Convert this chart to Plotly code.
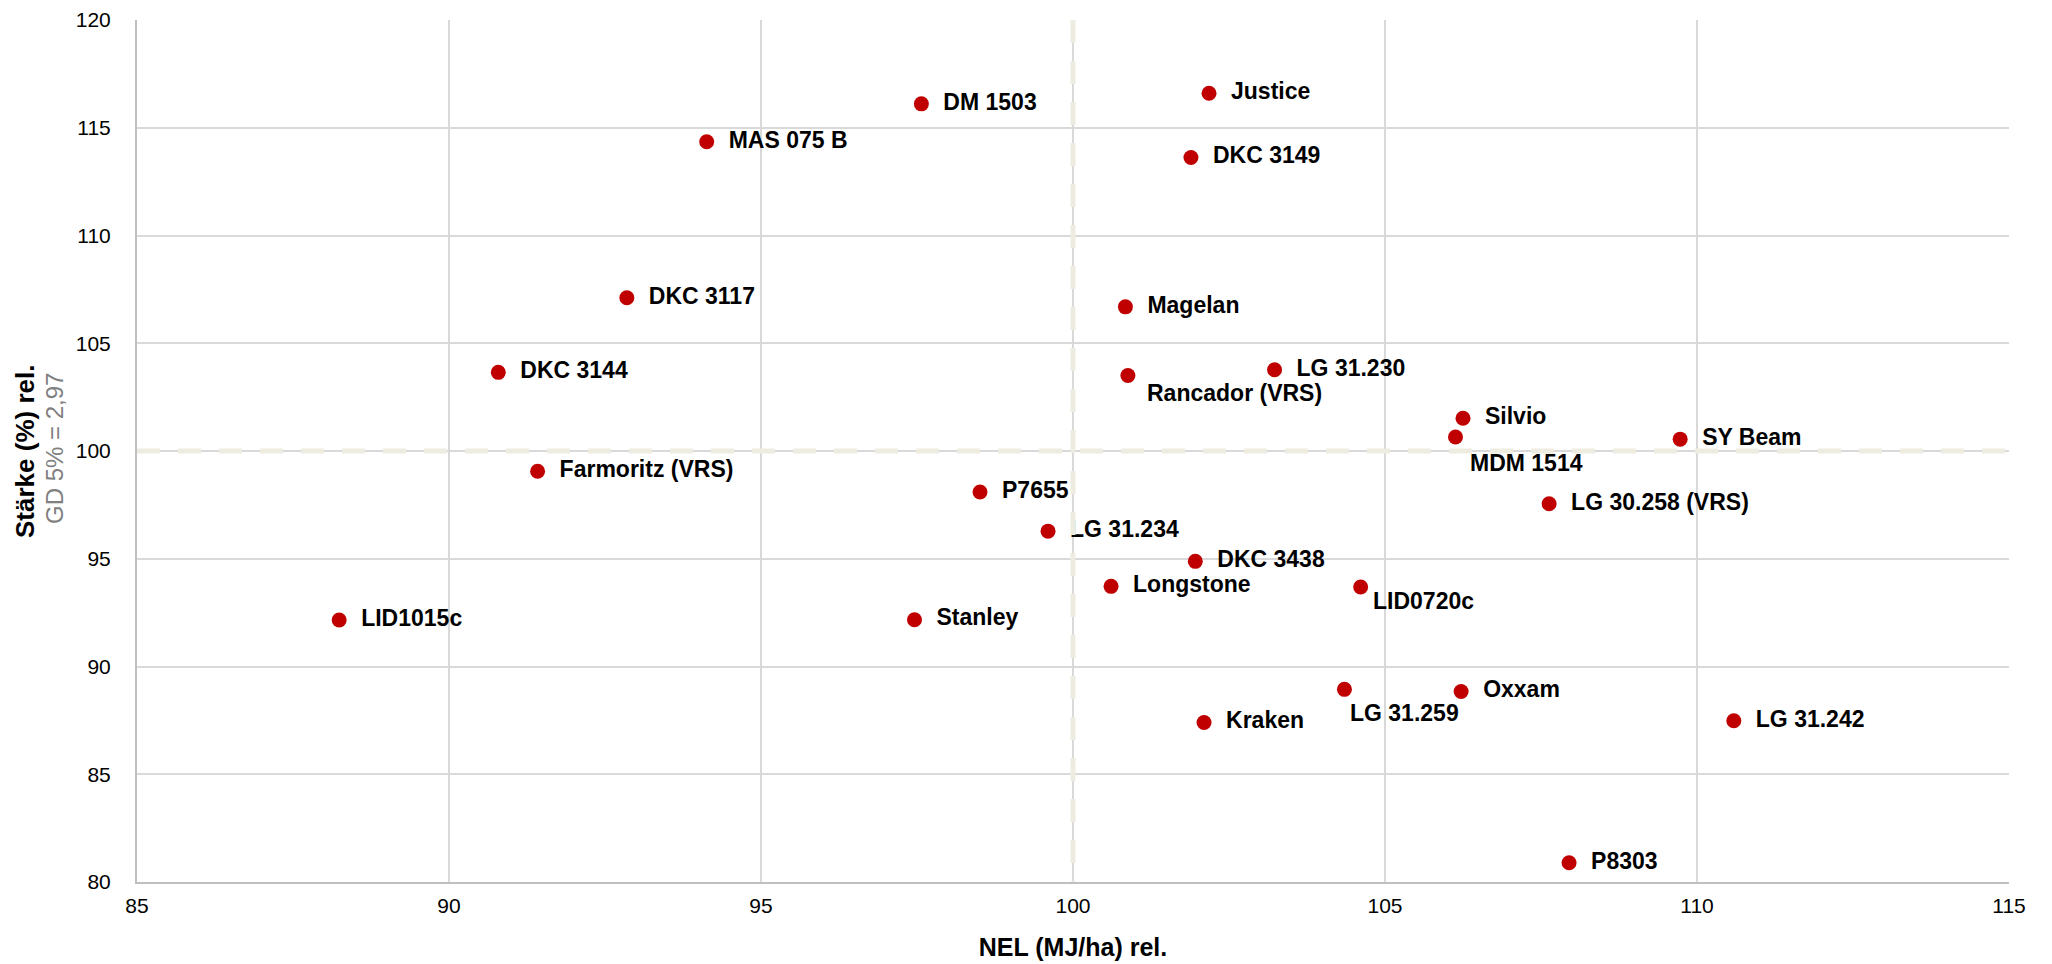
import plotly.graph_objects as go

# ---------------- data ----------------
names = [
    "Justice", "DM 1503", "MAS 075 B", "DKC 3149", "DKC 3117", "Magelan",
    "DKC 3144", "LG 31.230", "Rancador (VRS)", "Silvio", "MDM 1514", "SY Beam",
    "Farmoritz (VRS)", "P7655", "LG 30.258 (VRS)", "LG 31.234", "DKC 3438",
    "Longstone", "LID0720c", "Stanley", "LID1015c", "LG 31.259", "Oxxam",
    "Kraken", "LG 31.242", "P8303",
]
nel_rel = [
    102.18, 97.57, 94.13, 101.89, 92.85, 100.84,
    90.79, 103.23, 100.88, 106.25, 106.13, 109.73,
    91.42, 98.51, 107.63, 99.60, 101.96,
    100.61, 104.61, 97.46, 88.24, 104.35, 106.22,
    102.10, 110.59, 107.95,
]
staerke_rel = [
    116.60, 116.11, 114.35, 113.62, 107.11, 106.69,
    103.65, 103.77, 103.50, 101.52, 100.65, 100.55,
    99.06, 98.10, 97.55, 96.28, 94.88,
    93.72, 93.69, 92.17, 92.16, 88.94, 88.84,
    87.40, 87.48, 80.89,
]
x_ticks = [85, 90, 95, 100, 105, 110, 115]
y_ticks = [80, 85, 90, 95, 100, 105, 110, 115, 120]
x_range = [85, 115]
y_range = [80, 120]
ref_nel = 100
ref_staerke = 100
x_title = "NEL (MJ/ha) rel."
y_title = "Stärke (%) rel."
y_subtitle = "GD 5% = 2,97"

# ---------------- style ----------------
FONT = "Arial, 'Liberation Sans', sans-serif"
RED = "#C00000"
GRID = "#D9D9D9"
AXIS = "#BFBFBF"
DASH = "#EEECE1"
LABEL_SIZE = 23
# labels placed below-right of their point: (x shift px, y shift px)
below_right = {
    "Rancador (VRS)": (17, -17),
    "MDM 1514": (12, -26),
    "LG 31.259": (4, -24),
    "LID0720c": (10, -14),
}

W, H = 2052, 964
ML, MR, MT, MB = 137, 43, 20, 82

fig = go.Figure()

# points
fig.add_trace(go.Scatter(
    x=nel_rel, y=staerke_rel, mode="markers",
    marker=dict(color=RED, size=15, line=dict(width=0)),
    hoverinfo="skip", showlegend=False,
))

# right-hand labels (as trace text so reference lines may cover them)
idx = [i for i, n in enumerate(names) if n not in below_right]
fig.add_trace(go.Scatter(
    x=[nel_rel[i] for i in idx], y=[staerke_rel[i] for i in idx],
    mode="markers+text", text=[names[i] for i in idx],
    textposition="middle right",
    marker=dict(size=33.6, color="rgba(0,0,0,0)", line=dict(width=0)),
    textfont=dict(family=FONT, size=LABEL_SIZE, color="#000000", weight="bold"),
    hoverinfo="skip", showlegend=False,
))

annotations = []
for i, n in enumerate(names):
    if n in below_right:
        dx, dy = below_right[n]
        annotations.append(dict(
            x=nel_rel[i], y=staerke_rel[i], xref="x", yref="y",
            text=f"<b>{n}</b>", showarrow=False,
            xanchor="left", yanchor="middle", xshift=dx, yshift=dy,
            font=dict(family=FONT, size=LABEL_SIZE, color="#000000"),
        ))

# y-axis titles
annotations.append(dict(
    x=(25 - ML) / (W - ML - MR), y=(H - MB - 452) / (H - MT - MB),
    xref="paper", yref="paper", text=f"<b>{y_title}</b>", textangle=-90,
    showarrow=False, xanchor="center", yanchor="middle",
    font=dict(family=FONT, size=26, color="#000000"),
))
annotations.append(dict(
    x=(54 - ML) / (W - ML - MR), y=(H - MB - 449) / (H - MT - MB),
    xref="paper", yref="paper", text=y_subtitle, textangle=-90,
    showarrow=False, xanchor="center", yanchor="middle",
    font=dict(family=FONT, size=24, color="#808080"),
))

shapes = [
    dict(type="line", xref="x", yref="y", x0=ref_nel, x1=ref_nel,
         y0=y_range[1], y1=y_range[0], layer="above",
         line=dict(color=DASH, width=5, dash="23px,18px")),
    dict(type="line", xref="x", yref="y", x0=x_range[0], x1=x_range[1],
         y0=ref_staerke, y1=ref_staerke, layer="above",
         line=dict(color=DASH, width=5, dash="23px,18px")),
]

axis_common = dict(
    showgrid=True, gridcolor=GRID, gridwidth=2,
    showline=True, linecolor=AXIS, linewidth=2,
    zeroline=False, ticks="", automargin=False,
    tickfont=dict(family=FONT, size=21, color="#000000"),
)

fig.update_layout(
    width=W, height=H,
    margin=dict(l=ML, r=MR, t=MT, b=MB, pad=0, autoexpand=False),
    paper_bgcolor="white", plot_bgcolor="white",
    showlegend=False,
    xaxis=dict(
        range=x_range, tickvals=x_ticks, ticklabelstandoff=4,
        title=dict(text=f"<b>{x_title}</b>", standoff=22,
                   font=dict(family=FONT, size=25, color="#000000")),
        **axis_common,
    ),
    yaxis=dict(
        range=y_range, tickvals=y_ticks, ticklabelstandoff=20,
        **axis_common,
    ),
    annotations=annotations,
    shapes=shapes,
)

fig.write_html(
    "out.html",
    config={"displayModeBar": False},
    post_script="document.body.style.margin='0';",
)
